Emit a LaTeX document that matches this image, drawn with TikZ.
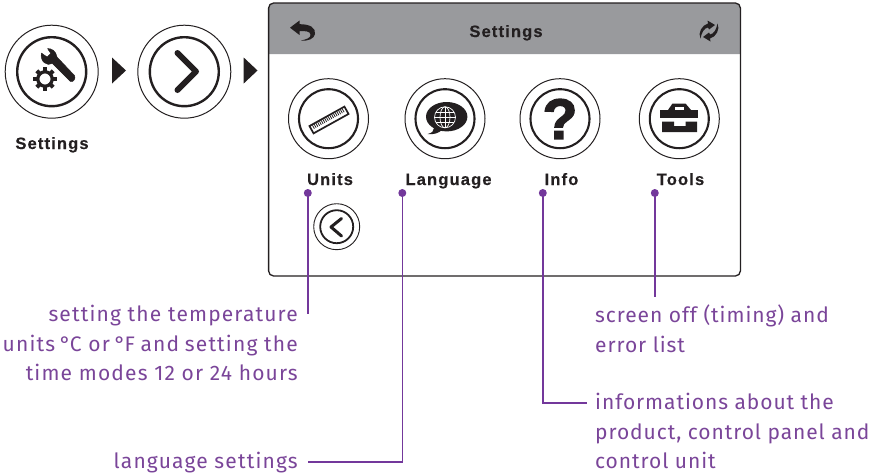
\documentclass[tikz,border=0pt]{standalone}
\usepackage{fontspec}
\setmainfont{Liberation Sans}
\newfontfamily\notefont[LetterSpace=5.5]{Fira Sans}
\newfontfamily\noterfont[LetterSpace=4.4]{Fira Sans}
\newfontfamily\labelfont[LetterSpace=7,FakeBold=0.4]{Liberation Sans}
\newfontfamily\qfont[FakeBold=2.5]{Liberation Sans}
\definecolor{notepurple}{HTML}{7A4599}
\definecolor{pinpurple}{HTML}{73389B}
\definecolor{headgray}{HTML}{999A9D}
\definecolor{inkblack}{HTML}{231F20}
\tikzset{
  x=1pt,y=1pt,
  bigouter/.style={circle,draw=inkblack,line width=1pt,minimum size=93pt,inner sep=0},
  biginner/.style={circle,draw=inkblack,line width=2.4pt,minimum size=69pt,inner sep=0},
  midouter/.style={circle,draw=inkblack,line width=1pt,minimum size=80pt,inner sep=0},
  midinner/.style={circle,draw=inkblack,line width=2.1pt,minimum size=59pt,inner sep=0},
  smallouter/.style={circle,draw=inkblack,line width=.9pt,minimum size=46pt,inner sep=0},
  smallinner/.style={circle,draw=inkblack,line width=1.8pt,minimum size=33pt,inner sep=0},
  tri/.style={fill=inkblack,draw=none},
  blabel/.style={font=\labelfont\bfseries\fontsize{16.5}{18}\selectfont,text=inkblack,inner sep=0,anchor=base},
  note/.style={font=\notefont\fontsize{21}{29.5}\selectfont,text=notepurple,inner sep=0},
  noter/.style={font=\noterfont\fontsize{21}{29.5}\selectfont,text=notepurple,inner sep=0},
  leader/.style={draw=pinpurple,line width=1.4pt},
  pin/.style={circle,fill=pinpurple,minimum size=8pt,inner sep=0},
  ico/.style={draw=inkblack,line cap=round,line join=round},
}
\begin{document}
\begin{tikzpicture}
\useasboundingbox (0,-474) rectangle (873,0);
% top-left icons
\node[bigouter] (o1) at (51.7,-71.7) {};
\node[biginner] (i1) at (51.7,-71.7) {};
\node[bigouter] (o2) at (184.3,-71.7) {};
\node[biginner] (i2) at (184.3,-71.7) {};
\node[blabel] (s1) at (52,-149) {Settings};
\fill[tri] (112,-57.5) -- (126,-70.5) -- (112,-83.5) -- cycle;
\fill[tri] (243.7,-57.5) -- (257.5,-70.5) -- (243.7,-83.5) -- cycle;
% wrench
\fill[inkblack,draw=inkblack,line width=.4pt,line join=round]
  (41.3,-53) -- (47.2,-57) -- (50.8,-53.5) -- (47.5,-48.5)
  .. controls (52,-48.5) and (56,-51) .. (57,-57)
  -- (74.5,-75.5) .. controls (76,-78) and (74,-82.5) .. (70.5,-81.5)
  -- (52.5,-63.5) .. controls (47,-66.5) and (40,-62) .. cycle;
% gear
\draw[inkblack,line width=3.2pt] (45,-79) circle[radius=7.2];
\foreach \a in {0,45,...,315}
  \draw[inkblack,line width=4pt] (45,-79) ++(\a:8) -- ++(\a:3.6);
% chevron
\draw[ico,line width=6pt] (177.5,-53) -- (196,-71.5) -- (177.5,-90);
% panel
\path[fill=headgray] (268.6,-54) -- (268.6,-8) arc[start angle=180,end angle=90,radius=5] -- (735.4,-3) arc[start angle=90,end angle=0,radius=5] -- (740.4,-54) -- cycle;
\draw[inkblack,line width=1.3pt,rounded corners=5pt] (268.6,-3) rectangle (740.4,-276);
\node[blabel] (s2) at (506,-37) {Settings};
% back arrow
\fill[inkblack] (290,-27.7) -- (299.5,-20.5) -- (299.5,-24.2)
  .. controls (310,-24) and (316,-28) .. (315,-34)
  .. controls (314.5,-38.5) and (308,-41.5) .. (301,-40.5)
  .. controls (306,-39.5) and (311,-38) .. (310.5,-34.5)
  .. controls (310,-31) and (305,-31) .. (299.5,-31) -- (299.5,-35) -- cycle;
% refresh
\foreach \r in {0,180}{
\begin{scope}[shift={(709,-31)},rotate=\r]
  \fill[inkblack] (-8.5,-7.5) .. controls (-11.5,-2) and (-7,6) .. (-1,7.5)
    -- (-1.5,10.5) -- (6,6) -- (0,1.5) -- (-1,3.5)
    .. controls (-5,3) and (-7.5,-2) .. cycle;
\end{scope}}
% icons row
\node[midouter] (o3) at (328.5,-118.7) {};
\node[midinner] (i3) at (328.5,-118.7) {};
\node[midouter] (o4) at (445,-118.7) {};
\node[midinner] (i4) at (445,-118.7) {};
\node[midouter] (o5) at (560,-118.7) {};
\node[midinner] (i5) at (560,-118.7) {};
\node[midouter] (o6) at (679.3,-118.7) {};
\node[midinner] (i6) at (679.3,-118.7) {};
% ruler
\begin{scope}[shift={(329,-120)},rotate=29]
  \draw[inkblack,line width=1.7pt] (-20,-4.2) rectangle (20,4.2);
  \foreach \t in {-17,-15,...,17} \draw[inkblack,line width=.8pt] (\t,3.5) -- (\t,-0.5);
\end{scope}
% speech bubble
\fill[inkblack] (446.7,-116.7) ellipse[x radius=20.7,y radius=14.7];
\fill[inkblack] (434,-128) .. controls (434,-131) and (432,-133) .. (427.5,-134) .. controls (433,-135) and (439,-133) .. (442,-130) -- cycle;
\begin{scope}[white,line width=.7pt]
  \draw (445,-117.3) circle[radius=10.5];
  \draw (445,-117.3) ellipse[x radius=5,y radius=10.5];
  \draw (445,-106.8) -- (445,-127.8);
  \draw (434.5,-117.3) -- (455.5,-117.3);
  \draw (436,-112) -- (454,-112);
  \draw (436,-122.6) -- (454,-122.6);
\end{scope}
% question mark
\node[inner sep=0,text=inkblack,font=\qfont\bfseries\fontsize{57}{60}\selectfont] (q) at (560,-119) {?};
% toolbox
\fill[inkblack] (672.5,-103.5) -- (685.5,-103.5) -- (691,-110) -- (668,-110) -- cycle;
\fill[white] (675,-107) rectangle (683.5,-110);
\fill[inkblack] (660,-110) rectangle (698.3,-118);
\fill[inkblack] (662,-121.7) -- (674,-121.7) -- (674,-126) -- (685.5,-126) -- (685.5,-121.7) -- (697,-121.7) -- (697,-132) -- (662,-132) -- cycle;
% labels
\node[blabel] (l1) at (330,-185) {Units};
\node[blabel] (l2) at (448.5,-185) {Language};
\node[blabel] (l3) at (561.5,-185) {Info};
\node[blabel] (l4) at (680.5,-185) {Tools};
% small back button
\node[smallouter] (o7) at (336.7,-226.7) {};
\node[smallinner] (i7) at (336.7,-226.7) {};
\draw[ico,line width=3pt] (341.5,-218.5) -- (331,-227) -- (341.5,-236);
% pins
\node[pin] (p1) at (307.8,-193) {};
\node[pin] (p2) at (402.3,-193) {};
\node[pin] (p3) at (542.8,-193) {};
\node[pin] (p4) at (654.8,-193) {};
% notes
\node[note,align=right,anchor=north east] (n1) at (298,-305) {setting the temperature\\units\kern-2pt{} °\kern-1pt{}C or\kern-2pt{} °\kern-1pt{}F\kern-1pt{} and\kern-1pt{} setting the\\time modes 12 or 24 hours};
\node[note,align=right,anchor=north east] (n2) at (298,-452) {language settings};
\node[noter,align=left,anchor=north west] (n3) at (595,-393) {informations about the\\product, control panel and\\control unit};
\node[noter,align=left,anchor=north west] (n4) at (595,-305) {screen off (timing) and\\error list};
% connector ends
\coordinate (e1) at (307.8,-314);
\coordinate (e2) at (402.3,-462);
\coordinate (e2b) at (308,-462);
\coordinate (e3) at (542.8,-403);
\coordinate (e3b) at (587,-403);
\coordinate (e4) at (654.8,-297);
\draw[leader] (p1.center) -- (e1);
\draw[leader] (p2.center) -- (e2) -- (e2b);
\draw[leader] (p3.center) -- (e3) -- (e3b);
\draw[leader] (p4.center) -- (e4);
\end{tikzpicture}
\end{document}
